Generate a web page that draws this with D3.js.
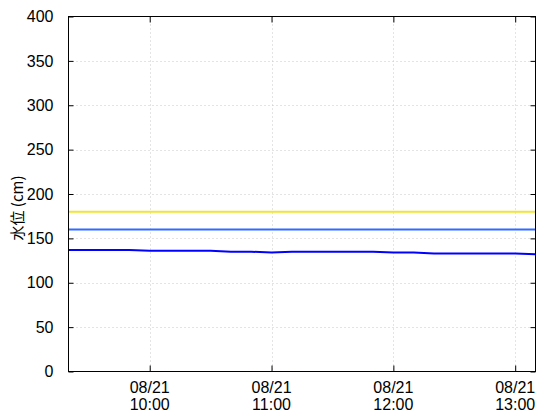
<!DOCTYPE html>
<html><head><meta charset="utf-8">
<script src="https://cdn.jsdelivr.net/npm/d3@7/dist/d3.min.js"></script>
<style>body{margin:0;background:#fff}svg{display:block}</style>
</head><body>
<svg id="c" width="560" height="420"></svg>
<script>
const times = ["09:20","09:30","09:40","09:50","10:00","10:10","10:20","10:30","10:40","10:50","11:00","11:10","11:20","11:30","11:40","11:50","12:00","12:10","12:20","12:30","12:40","12:50","13:00","13:10"];
const levels = [137,137,137,137,136,136,136,136,135,135,134,135,135,135,135,135,134,134,133,133,133,133,133,132];
const refLines = [{value:180,color:"#f0e630"},{value:160,color:"#2f6bff"}];
const yTicks = [0,50,100,150,200,250,300,350,400];
const xTickTimes = ["10:00","11:00","12:00","13:00"];
const dateLabel = "08/21";
const yLabel = "水位 (cm)";

const parse = t => { const [h,m] = t.split(":").map(Number); return new Date(2023,7,21,h,m); };
const L=68.5, R=535.5, T=16.5, B=371.5;
const svg = d3.select("#c");
const x = d3.scaleTime().domain([parse(times[0]), parse(times[times.length-1])]).range([L,R]);
const y = d3.scaleLinear().domain([0,400]).range([B,T]);
const font = "'Liberation Sans Narrow','Arial Narrow','Liberation Sans',sans-serif";

// grid
const g = svg.append("g");
g.selectAll(".hg").data(yTicks.slice(1,-1)).enter().append("line")
 .attr("x1",L).attr("x2",R).attr("y1",d=>Math.round(y(d))+0.5).attr("y2",d=>Math.round(y(d))+0.5)
 .attr("stroke","#c8c8c8").attr("stroke-dasharray","1,3");
g.selectAll(".vg").data(xTickTimes).enter().append("line")
 .attr("x1",d=>Math.round(x(parse(d)))+0.5).attr("x2",d=>Math.round(x(parse(d)))+0.5).attr("y1",T).attr("y2",B)
 .attr("stroke","#c8c8c8").attr("stroke-dasharray","1,3");

// reference lines
svg.selectAll(".ref").data(refLines).enter().append("line")
 .attr("x1",L).attr("x2",R).attr("y1",d=>y(d.value)).attr("y2",d=>y(d.value))
 .attr("stroke",d=>d.color).attr("stroke-width",2);

// data line
const line = d3.line().x((d,i)=>x(parse(times[i]))).y(d=>y(d));
svg.append("path").datum(levels).attr("d",line).attr("fill","none")
 .attr("stroke","#0000ff").attr("stroke-width",2);

// axes with inward ticks
const yl = d3.axisLeft(y).tickValues(yTicks).tickSize(-5).tickPadding(15).tickFormat(d3.format("d"));
const yr = d3.axisRight(y).tickValues(yTicks).tickSize(-5).tickFormat("");
const xb = d3.axisBottom(x).tickValues(xTickTimes.map(parse)).tickSize(-6).tickFormat("");
const xt = d3.axisTop(x).tickValues(xTickTimes.map(parse)).tickSize(-6).tickFormat("");
function style(sel){ sel.select(".domain").remove(); sel.selectAll("line").attr("stroke","#000"); sel.selectAll("text").attr("font-family",font).attr("font-size",16).attr("fill","#000"); }
svg.append("g").attr("transform",`translate(${L},0)`).call(yl).call(style);
svg.append("g").attr("transform",`translate(${R},0)`).call(yr).call(style);
svg.append("g").attr("transform",`translate(0,${B})`).call(xb).call(style);
svg.append("g").attr("transform",`translate(0,${T})`).call(xt).call(style);

// x labels (two lines)
const xl = svg.append("g");
xTickTimes.forEach(t=>{
  const tx = x(parse(t));
  const txt = xl.append("text").attr("x",tx).attr("y",393).attr("text-anchor","middle")
   .attr("font-family",font).attr("font-size",16).attr("fill","#000");
  txt.append("tspan").attr("x",tx).text(dateLabel);
  txt.append("tspan").attr("x",tx).attr("dy",17).text(t);
});

// frame
svg.append("rect").attr("x",L).attr("y",T).attr("width",R-L).attr("height",B-T)
 .attr("fill","none").attr("stroke","#000").attr("stroke-width",1);

// y label
svg.append("text").attr("transform","translate(23,208) rotate(-90)").attr("text-anchor","middle")
 .attr("font-family","'Noto Sans CJK JP',sans-serif").attr("font-size",15).attr("fill","#000").text(yLabel);
</script>
</body></html>
